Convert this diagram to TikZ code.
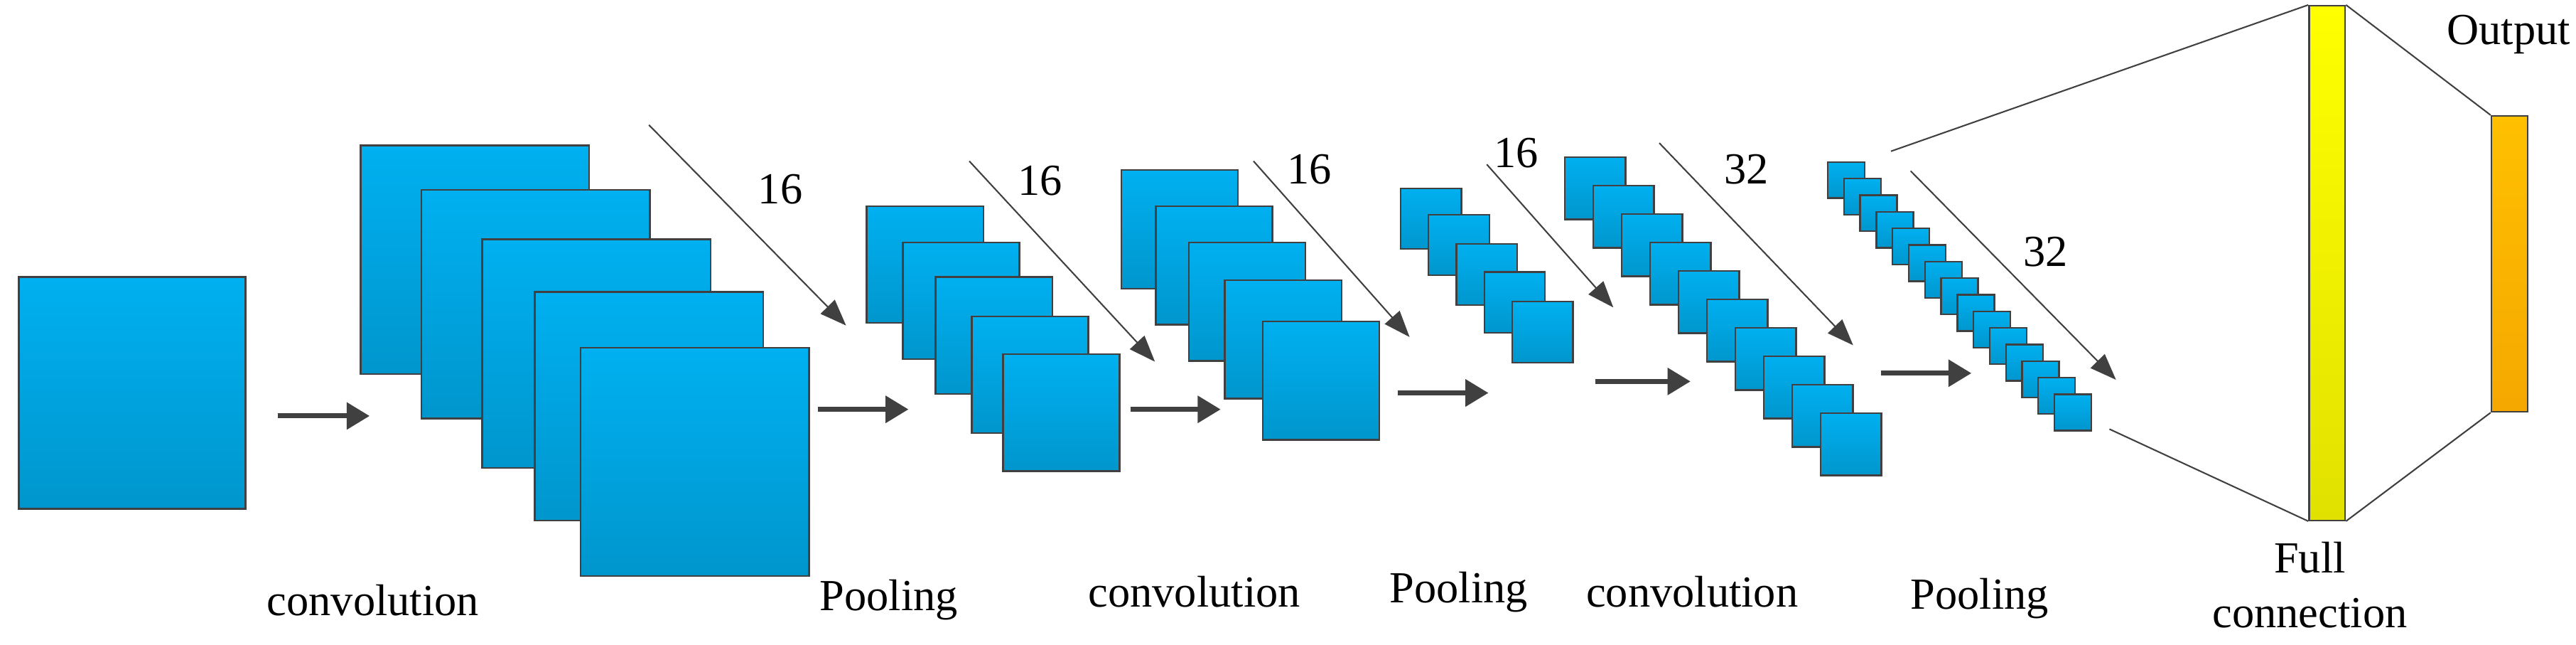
\documentclass[tikz,border=0pt]{standalone}
\usepackage{fontspec}
\setmainfont{Liberation Serif}
\usetikzlibrary{arrows.meta,positioning}
\definecolor{mapborder}{HTML}{404040}
\tikzset{fmap/.style = {draw=mapborder, line width=1pt, top color={rgb,255:red,0;green,176;blue,240}, bottom color={rgb,255:red,0;green,150;blue,205}, anchor=north west, inner sep=0pt}}
\tikzset{steparrow/.style = {draw=mapborder, line width=3pt, -{Triangle[length=14pt,width=16pt]}}}
\tikzset{kernel/.style = {draw=mapborder, line width=0.9pt, -{Triangle[length=16pt,width=12pt]}}}
\tikzset{link/.style = {draw=mapborder, line width=0.9pt}}
\tikzset{lbl/.style = {font=\fontsize{27}{30}\selectfont, inner sep=0pt}}

\begin{document}
\begin{tikzpicture}[x=1pt,y=-1pt]
    \useasboundingbox (0,0) rectangle (1568,392);

    % input
    \node[fmap, minimum width=138pt, minimum height=141pt] (in) at (11,168) {};

    % feature maps
    \foreach \X/\Y [count=\i] in {219/88, 256/115, 293/145, 325/177, 353/211}
        \node[fmap, minimum width=139pt, minimum height=139pt] (C1-\i) at (\X,\Y) {};
    \foreach \X/\Y [count=\i] in {527/125, 549/147, 569/168, 591/192, 610/215}
        \node[fmap, minimum width=71pt, minimum height=71pt] (P1-\i) at (\X,\Y) {};
    \foreach \X/\Y [count=\i] in {682/103, 703/125, 723/147, 745/170, 768/195}
        \node[fmap, minimum width=71pt, minimum height=72pt] (C2-\i) at (\X,\Y) {};
    \foreach \X/\Y [count=\i] in {852/114, 869/130, 886/148, 903/165, 920/183}
        \node[fmap, minimum width=37pt, minimum height=37pt] (P2-\i) at (\X,\Y) {};
    \foreach \i in {0,...,9}
        \node[fmap, minimum width=37pt, minimum height=38pt] (C3-\i) at (952+17.3*\i,95+17.3*\i) {};
    \foreach \i in {0,...,14}
        \node[fmap, minimum width=22.5pt, minimum height=22pt] (P3-\i) at (1112+9.86*\i,98+10.1*\i) {};

    % dense layers
    \node[draw=mapborder, line width=1pt, top color={rgb,255:red,255;green,255;blue,0}, bottom color={rgb,255:red,225;green,225;blue,0}, anchor=north west, minimum width=22pt, minimum height=313pt, inner sep=0pt] (full) at (1405,3) {};
    \node[draw=mapborder, line width=1pt, top color={rgb,255:red,255;green,192;blue,0}, bottom color={rgb,255:red,245;green,168;blue,0}, anchor=north west, minimum width=22pt, minimum height=180pt, inner sep=0pt] (out) at (1516,70) {};

    % arrow ends
    \foreach \Name/\X/\Y in {a1s/169/253, a1e/225/253, a2s/498/249, a2e/553/249,
        a3s/688/249, a3e/743/249, a4s/851/239, a4e/906/239, a5s/971/232, a5e/1029/232,
        a6s/1145/227, a6e/1200/227, k1s/395/76, k1e/515/198, k2s/590/98, k2e/703/220,
        k3s/763/98, k3e/858/205, k4s/905/100, k4e/982/187, k5s/1010/87, k5e/1128/210,
        k6s/1163/104, k6e/1288/231, t1/1151/92, t2/1284/261}
        \coordinate (\Name) at (\X,\Y);

    \foreach \i in {1,...,6}
        \draw[steparrow] (a\i s) -- (a\i e);
    \foreach \i in {1,...,6}
        \draw[kernel] (k\i s) -- (k\i e);

    \draw[link] (t1) -- (full.north west);
    \draw[link] (t2) -- (full.south west);
    \draw[link] (full.north east) -- (out.north west);
    \draw[link] (full.south east) -- (out.south west);

    % labels
    \foreach \X/\Y/\Text in {475/115/16, 633/110/16, 797/103/16, 923/93/16, 1063/103/32, 1245/153/32,
        227/365/convolution, 541/365/Pooling, 727/360/convolution, 888/360/Pooling,
        1030/360/convolution, 1205/364/Pooling, 1527/21/Output, 1406/339/Full, 1406/373/connection}
        \node[lbl] at (\X,\Y) {\Text};
\end{tikzpicture}
\end{document}
